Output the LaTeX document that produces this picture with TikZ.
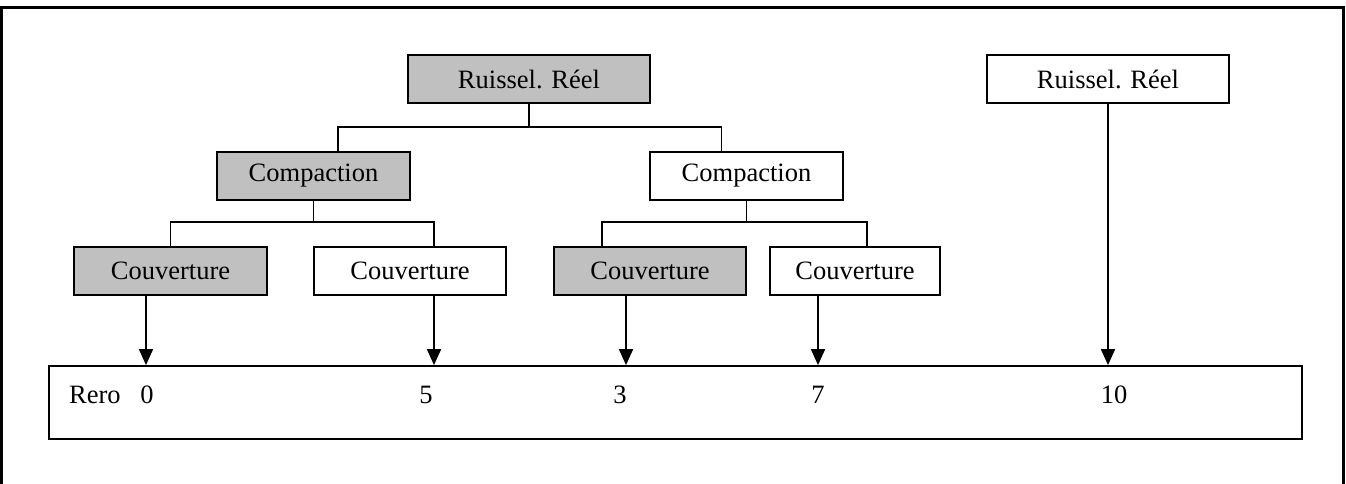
\documentclass[tikz,border=0pt]{standalone}
\usepackage{fontspec}
\setmainfont{Liberation Serif}
\usetikzlibrary{arrows.meta, calc}
\definecolor{boxgray}{RGB}{192,192,192}

\begin{document}
\begin{tikzpicture}[
  x=1pt, y=-1pt,
  font=\fontsize{26.5pt}{30pt}\selectfont,
  factor/.style={draw, line width=1.8pt, minimum width=193pt, minimum height=48pt, inner sep=0pt},
  picked/.style={factor, fill=boxgray},
  link/.style={line width=1.8pt},
  arr/.style={-{Triangle[length=16pt, width=14pt]}, line width=1.8pt},
  num/.style={anchor=base, inner sep=0pt}
]
\useasboundingbox (0,0) rectangle (1346,484);
\draw[line width=2.2pt] (1.5,490) |- (1343.5,7.5) -- (1343.5,490);
% tree of factors
\node[picked, minimum width=242pt] (topA) at (529,79) {Ruissel. Réel};
\node[factor, minimum width=242pt] (topB) at (1108,79) {Ruissel. Réel};
\node[picked] (compA) at (313.5,176) {Compaction};
\node[factor] (compB) at (746.5,176) {Compaction};
\node[picked] (covA) at (170.5,271) {Couverture};
\node[factor, minimum width=192pt] (covB) at (410,271) {Couverture};
\node[picked, minimum width=192pt] (covC) at (650,271) {Couverture};
\node[factor, minimum width=170pt] (covD) at (855,271) {Couverture};
% scale of values
\node[draw, line width=1.8pt, minimum width=1253pt, minimum height=73pt, inner sep=0pt] (rero) at (675.5,402.5) {};
\node[num, anchor=base west] (lblRero) at (69,403) {Rero};
\node[num] (v0) at (147,403) {0};
\node[num] (v5) at (426,403) {5};
\node[num] (v3) at (620,403) {3};
\node[num] (v7) at (818,403) {7};
\node[num] (v10) at (1114,403) {10};
% branches
\coordinate (busA) at (529,127);
\coordinate (busB) at (313.5,222);
\coordinate (busC) at (746.5,222);
\draw[link] (topA.south) -- (busA);
\draw[link] ([xshift=24.5pt]compA.north) |- (busA) -| ([xshift=-25pt]compB.north);
\draw[link] (compA.south) -- (busB);
\draw[link] (covA.north) |- (busB) -| ([xshift=24pt]covB.north);
\draw[link] (compB.south) -- (busC);
\draw[link] ([xshift=-48pt]covC.north) |- (busC) -| ([xshift=12pt]covD.north);
% arrows to the values
\draw[arr] ([xshift=-24.5pt]covA.south) -- ([xshift=-529.5pt]rero.north);
\draw[arr] ([xshift=24pt]covB.south) -- ([xshift=-241.5pt]rero.north);
\draw[arr] ([xshift=-24pt]covC.south) -- ([xshift=-49.5pt]rero.north);
\draw[arr] ([xshift=-37pt]covD.south) -- ([xshift=142.5pt]rero.north);
\draw[arr] (topB.south) -- ([xshift=432.5pt]rero.north);
\end{tikzpicture}
\end{document}
